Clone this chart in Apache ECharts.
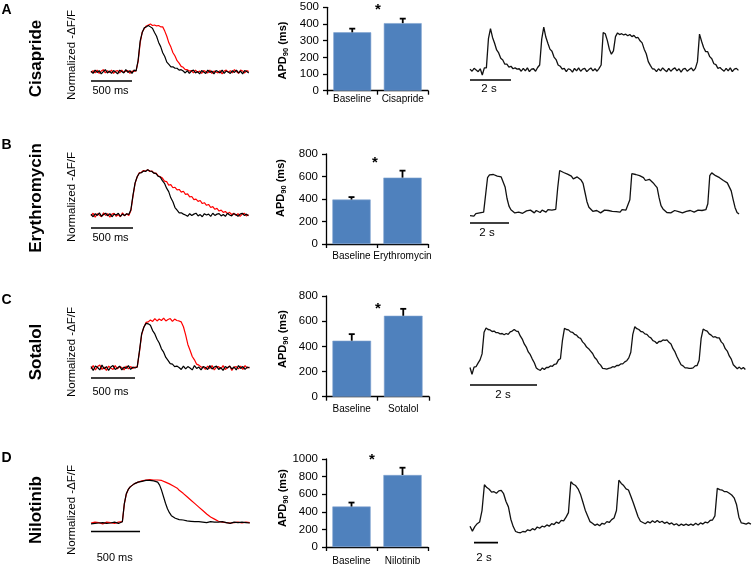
<!DOCTYPE html>
<html><head><meta charset="utf-8">
<script src="https://cdn.jsdelivr.net/npm/echarts@6/dist/echarts.min.js"></script>
<style>html,body{margin:0;padding:0;background:#fff}#c{width:752px;height:566px}</style>
</head><body><div id="c"></div><script>
// ---------------- DATA ----------------
const panelLetters = ['A', 'B', 'C', 'D'];
const drugs = ['Cisapride', 'Erythromycin', 'Sotalol', 'Nilotinib'];
const yTitle = 'Normalized -ΔF/F';
const barCategories = [['Baseline', 'Cisapride'], ['Baseline', 'Erythromycin'], ['Baseline', 'Sotalol'], ['Baseline', 'Nilotinib']];
const apdMeans = [[350, 405], [395, 590], [445, 643], [460, 818]];
const apdErrs = [[22, 27], [22, 62], [52, 55], [45, 83]];
const apdAxisMax = [500, 800, 800, 1000];
const apdAxisInterval = [100, 200, 200, 200];
const leftScaleMs = 500, leftScaleLabel = '500 ms';
const rightScaleMs = 2000, rightScaleLabel = '2 s';

// averaged optical APs (normalized), sample step in ms
const leftStepMs = [25, 25, 25, 20];
const apA_base = [0.02,-0.03,0.04,-0.01,0.03,-0.04,0.01,0.05,-0.02,0.02,-0.03,0.03,0.00,-0.04,0.04,0.01,-0.02,0.05,-0.01,0.03,-0.03,0.04,0.02,
 0.25,0.66,0.84,0.94,0.96,0.99,0.96,0.93,0.84,0.76,0.63,0.54,0.41,0.33,0.21,0.16,0.11,0.11,0.08,0.08,0.04,0.05,0.02,
 -0.02,0.03,-0.03,0.02,0.04,-0.02,0.01,-0.04,0.03,0.00,-0.03,0.04,-0.01,0.02,-0.04,0.03,0.01,-0.02,0.04,-0.03,0.02,0.00,-0.03,0.03,-0.01,0.04,-0.02,0.02,-0.04,0.03,0.01,-0.02];
const apA_drug = [-0.01,0.03,-0.02,0.04,-0.03,0.02,0.05,-0.02,0.03,-0.01,0.04,-0.03,0.02,0.03,-0.02,0.04,-0.01,0.02,0.03,-0.03,0.02,0.01,0.03,
 0.22,0.62,0.85,0.92,0.98,1.0,1.02,0.99,1.0,0.98,0.99,0.96,0.96,0.87,0.76,0.62,0.53,0.41,0.34,0.24,0.19,0.12,0.10,0.05,0.05,0.02,
 0.03,-0.02,0.04,-0.01,0.02,-0.03,0.03,0.01,-0.02,0.04,-0.03,0.02,0.00,-0.02,0.03,-0.04,0.02,0.04,-0.01,0.03,-0.02,0.05,0.01,-0.03,0.04,0.02,-0.02,0.03,0.01];
const apB_base = [0.02,-0.04,0.03,-0.01,0.05,-0.03,0.01,0.04,-0.02,0.03,-0.04,0.02,0.00,0.04,-0.03,0.02,-0.01,0.03,0.01,
 0.12,0.45,0.73,0.87,0.95,0.96,1.0,0.99,1.03,1.0,0.99,0.95,0.94,0.88,0.86,0.78,0.72,0.61,0.53,0.39,0.30,0.17,0.11,0.05,0.05,0.02,
 0.00,-0.03,0.03,-0.01,0.02,0.04,-0.02,0.01,-0.04,0.03,0.00,0.02,-0.03,0.04,-0.01,0.02,0.03,-0.02,0.01,-0.03,0.04,0.00,-0.02,0.03,0.01,-0.03,0.02,0.04,-0.01,0.02,-0.02];
const apB_drug = [-0.02,0.04,-0.05,0.03,0.00,-0.04,0.05,-0.01,0.03,-0.05,0.02,0.04,-0.03,0.01,-0.04,0.05,-0.02,0.03,-0.01,
 0.10,0.43,0.72,0.87,0.96,0.97,1.01,1.0,1.03,0.99,1.0,0.95,0.95,0.89,0.87,
 0.84,0.77,0.76,0.68,0.69,0.62,0.63,0.57,0.58,0.52,0.54,0.47,0.48,0.41,0.42,0.35,0.36,0.31,0.33,0.26,0.28,0.22,0.24,0.17,0.19,0.13,0.15,0.09,0.11,0.06,0.08,0.03,0.06,0.01,0.04,-0.01,
 0.03,-0.03,0.02,0.04,-0.02,0.01];
const apC_base = [0.03,-0.05,0.04,0.01,-0.04,0.06,-0.02,0.03,-0.05,0.02,0.05,-0.03,0.00,0.04,-0.04,0.02,-0.01,0.05,-0.03,0.02,0.00,
 0.02,0.35,0.71,0.85,0.93,0.92,0.89,0.78,0.71,0.60,0.52,0.40,0.33,0.22,0.16,0.09,0.08,0.03,0.04,0.01,
 -0.03,0.04,-0.02,0.03,0.00,-0.04,0.05,-0.01,0.02,-0.04,0.03,0.01,-0.03,0.05,-0.02,0.02,0.04,-0.03,0.01,-0.05,0.03,0.00,0.04,-0.02,0.02,-0.04,0.05,-0.01,0.03,-0.03,0.02,0.00];
const apC_drug = [-0.02,0.05,-0.04,0.03,0.06,-0.03,0.02,-0.05,0.04,0.00,-0.03,0.05,-0.02,0.03,0.01,-0.04,0.04,-0.02,0.03,-0.01,0.02,
 0.02,0.33,0.69,0.85,0.95,0.96,1.0,0.97,1.03,0.98,1.02,0.99,1.04,0.98,1.01,1.03,0.97,1.02,0.99,0.98,0.96,0.86,0.69,0.49,0.37,0.24,0.17,0.08,0.06,0.02,0.02,
 -0.03,0.04,-0.01,0.05,-0.04,0.02,0.03,-0.02,0.05,-0.03,0.01,0.04,-0.05,0.02,0.03,-0.02,0.04,-0.03,0.05,0.00,0.02];
const apD_base = [-0.02,0.01,-0.01,0.02,0.00,-0.02,0.01,0.02,-0.01,0.01,0.00,-0.02,0.02,0.01,-0.01,0.01,
 0.03,0.45,0.68,0.78,0.84,0.88,0.91,0.93,0.95,0.96,0.97,0.98,0.99,0.99,0.99,0.99,0.98,0.97,0.95,0.88,0.76,0.61,0.46,0.33,0.24,0.17,0.13,0.11,0.09,0.08,0.07,0.07,0.06,0.05,0.05,0.04,0.04,0.03,0.04,0.03,0.03,
 0.02,0.03,0.01,0.02,0.03,0.01,0.02,0.00,0.02,0.01,0.03,0.00,0.01,0.02,-0.01,0.01,0.02,0.00,0.01,-0.01,0.02,0.00,0.01,0.02,0.00];
const apD_drug = [0.00,-0.02,0.02,-0.01,0.01,0.02,-0.02,0.00,0.02,-0.01,0.01,0.02,-0.01,0.00,0.02,-0.01,
 0.03,0.44,0.67,0.78,0.84,0.88,0.91,0.93,0.95,0.97,0.98,0.99,1.0,1.0,1.01,1.01,1.0,1.01,1.0,1.0,
 0.99,0.96,0.95,0.91,0.91,0.87,0.86,0.82,0.81,0.76,0.74,0.69,0.67,0.61,0.59,0.53,0.51,0.45,0.44,0.37,0.35,0.29,0.27,0.21,0.20,0.14,0.13,0.09,0.08,0.04,0.05,0.02,0.03,
 0.01,0.03,0.00,0.02,0.01,-0.01,0.02,0.03,0.00,0.01,0.02,-0.01,0.01];

// example raw recordings with drug (normalized), sample step in ms
const rightStepMs = [100, 100, 60, 200];
const recA = [0.02,-0.03,0.04,0.00,-0.04,0.03,-0.12,0.05,
 0.05,0.75,0.99,0.78,0.64,0.48,0.41,0.28,0.24,0.14,0.14,0.07,0.09,0.03,0.05,0.02,0.03,
 -0.03,0.04,-0.02,0.05,-0.04,0.02,0.03,-0.03,0.06,
 0.12,0.74,1.03,0.79,0.64,0.50,0.45,0.31,0.25,0.12,0.09,0.02,0.04,
 -0.04,0.03,0.01,-0.05,0.04,-0.02,0.05,-0.03,0.02,0.04,-0.04,0.01,0.05,-0.02,0.03,-0.03,0.04,
 0.12,0.90,0.87,0.71,0.50,0.38,0.46,0.80,0.89,0.85,0.87,0.84,0.86,0.82,0.85,0.80,0.83,0.77,0.78,0.70,0.65,0.50,0.39,0.20,0.11,0.03,0.02,
 -0.04,0.03,-0.02,0.05,0.00,-0.04,0.04,-0.03,0.02,0.05,-0.02,0.03,-0.05,0.02,0.04,-0.03,0.01,0.05,-0.02,0.04,
 0.20,0.86,0.69,0.54,0.44,0.44,0.32,0.27,0.15,0.13,0.04,0.06,0.01,
 -0.03,0.04,-0.02,0.05,-0.04,0.02,0.04,-0.01];
const recB = [-0.10,-0.06,-0.11,-0.05,-0.08,-0.03,-0.06,-0.01,-0.04,
 0.85,0.92,0.90,0.93,0.90,0.89,0.91,0.87,0.84,0.62,0.33,0.14,0.05,0.01,
 -0.03,0.02,-0.01,0.03,-0.04,0.01,0.02,-0.02,0.04,0.00,-0.03,0.03,0.01,-0.02,0.04,0.02,-0.01,0.05,0.02,0.04,0.03,0.06,
 0.60,1.03,0.99,0.98,0.94,0.94,0.91,0.89,0.82,0.81,0.87,0.84,0.79,0.71,0.48,0.25,0.11,0.06,0.01,
 -0.02,0.03,0.00,-0.03,0.02,0.04,-0.01,0.03,-0.02,0.01,0.04,0.00,0.03,-0.01,0.05,0.02,0.04,0.06,
 0.30,0.95,0.96,0.93,0.91,0.90,0.88,0.85,0.78,0.76,0.81,0.78,0.72,0.66,0.60,0.35,0.15,0.07,0.03,
 -0.02,0.02,-0.03,0.01,0.03,-0.02,0.00,0.03,-0.03,0.02,0.01,-0.02,0.03,0.00,-0.01,0.02,0.04,0.01,0.03,0.02,0.05,
 0.20,0.90,0.97,0.93,0.90,0.87,0.85,0.81,0.78,0.75,0.72,0.68,0.52,0.30,0.10,-0.02,-0.06];
const recC = [0.02,-0.15,0.03,0.04,0.13,0.21,0.36,0.90,1.01,0.97,
 0.96,0.92,0.93,0.89,0.89,0.86,0.87,0.84,0.87,0.85,
 0.91,0.93,0.97,0.93,0.92,0.81,0.73,0.61,0.53,0.41,
 0.34,0.23,0.14,0.01,-0.03,-0.05,0.01,-0.03,0.02,0.02,
 0.06,0.05,0.10,0.11,0.21,0.24,0.70,1.00,0.97,0.96,
 0.91,0.90,0.85,0.83,0.77,0.75,0.66,0.61,0.53,0.49,
 0.43,0.37,0.27,0.22,0.13,0.08,0.00,-0.01,-0.02,0.00,
 0.01,0.04,0.03,0.07,0.07,0.11,0.11,0.16,0.19,0.26,
 0.40,0.85,1.04,0.99,0.97,0.92,0.91,0.86,0.85,0.79,
 0.76,0.69,0.67,0.62,0.67,0.67,0.71,0.70,0.71,0.65,
 0.61,0.49,0.41,0.29,0.19,0.09,0.06,0.01,0.01,0.00,
 0.00,0.01,0.06,0.07,0.20,0.75,0.98,0.95,0.93,0.86,
 0.83,0.78,0.79,0.76,0.76,0.66,0.61,0.49,0.43,0.31,
 0.23,0.09,0.04,-0.01,0.03,-0.02,0.02,-0.03];
const recD = [-0.03,-0.15,-0.04,0.03,0.07,0.35,0.98,0.91,0.87,0.80,
 0.81,0.77,0.83,0.84,0.76,0.57,0.44,0.14,-0.04,-0.16,
 -0.18,-0.19,-0.16,-0.17,-0.12,-0.14,-0.09,-0.12,-0.05,-0.08,
 -0.03,-0.05,0.00,-0.03,0.03,0.01,0.07,0.04,0.11,0.10,
 0.19,0.30,1.05,0.99,0.96,0.88,0.75,0.56,0.36,0.22,
 0.08,0.04,-0.01,0.02,-0.02,0.04,0.02,0.08,0.06,0.13,
 0.17,0.35,1.09,1.01,0.96,0.88,0.85,0.70,0.54,0.37,
 0.20,0.09,0.06,0.03,0.08,0.05,0.10,0.06,0.11,0.06,
 0.09,0.04,0.07,0.02,0.05,0.00,0.03,-0.02,0.02,-0.01,
 0.02,-0.01,0.02,-0.01,0.04,0.00,0.05,0.02,0.07,0.05,
 0.11,0.12,0.22,0.89,0.86,0.85,0.81,0.81,0.77,0.73,
 0.66,0.50,0.19,0.05,0.04,0.02,0.05,0.02];

const apBaseline = [apA_base, apB_base, apC_base, apD_base];
const apDrug = [apA_drug, apB_drug, apC_drug, apD_drug];
const recordings = [recA, recB, recC, recD];

// ---------------- LAYOUT ----------------
const FONT = '"Liberation Sans", Arial, Helvetica, sans-serif';
const L = [
 {letter:[1.5,10.5], drug:[36,58.5], norm:[72,55],
  lt:{left:91,width:159,base:72,peak:25,xMax:1940,bar:81,txt:[92.5,90.5]},
  bc:{left:327,top:7.3,width:101,height:83.4,lblMargin:4,star:[378,10],name:[282.5,50.5]},
  rt:{left:470,width:270,base:70,peak:28.3,xMax:13176,bar:80,barStart:0,txt:[489,89]}},
 {letter:[1.5,145], drug:[36,198], norm:[72,197],
  lt:{left:91,width:159,base:215,peak:171,xMax:1893,bar:228,txt:[92.5,237.5]},
  bc:{left:326,top:154,width:102,height:90,lblMargin:7,star:[375,163],name:[281,188]},
  rt:{left:470,width:270,base:211.7,peak:171.7,xMax:13851,bar:223,barStart:0,txt:[487,232.5]}},
 {letter:[1.5,300], drug:[36,352], norm:[72,352],
  lt:{left:91,width:159,base:368,peak:320,xMax:1806,bar:378,txt:[92.5,391.5]},
  bc:{left:326,top:296,width:103,height:100.7,lblMargin:8,star:[378,309],name:[283,339]},
  rt:{left:470,width:276,base:368.3,peak:328.3,xMax:8239,bar:385,barStart:0,txt:[503,395]}},
 {letter:[1.5,458], drug:[36,510], norm:[72,510],
  lt:{left:91,width:159,base:535,peak:484,xMax:1622,bar:545,txt:[96.7,557.5]},
  bc:{left:326,top:459,width:102,height:88,lblMargin:9,star:[372,460],name:[282.5,498]},
  rt:{left:470,width:282,base:528.3,peak:485,xMax:23490,bar:547,barStart:333,txt:[484,557.5]}}
];
const VMIN = -1, VMAX = 1.5;

const grid = [], xAxis = [], yAxis = [], series = [], elements = [];
function hiddenAxes(xMax) {
  const gi = grid.length - 1;
  xAxis.push({type:'value', gridIndex:gi, min:0, max:xMax, show:false});
  yAxis.push({type:'value', gridIndex:gi, min:VMIN, max:VMAX, show:false});
  return gi;
}
function traceGrid(p) {
  const ppu = p.base - p.peak;
  grid.push({left:p.left, width:p.width, top:p.peak - (VMAX - 1) * ppu, height:(VMAX - VMIN) * ppu});
  return ppu;
}
function lineSeries(gi, data, color, width) {
  series.push({type:'line', xAxisIndex:gi, yAxisIndex:gi, data, symbol:'none', showSymbol:false,
    clip:false, silent:true, animation:false, lineStyle:{color, width}});
}
function txt(x, y, text, size, weight, align, rot) {
  elements.push({type:'text', x, y, rotation:rot || 0, silent:true,
    style:{text, fill:'#000', fontSize:size, fontWeight:weight, fontFamily:FONT, align, verticalAlign:'middle'}});
}

for (let r = 0; r < 4; r++) {
  const lay = L[r];
  // --- left: averaged APs ---
  let ppu = traceGrid(lay.lt);
  let gi = hiddenAxes(lay.lt.xMax);
  const st = leftStepMs[r];
  lineSeries(gi, apDrug[r].map((v, i) => [i * st, v]), '#ff0000', 1.2);
  lineSeries(gi, apBaseline[r].map((v, i) => [i * st, v]), '#000000', 1.2);
  const yb = -(lay.lt.bar - lay.lt.base) / ppu;
  lineSeries(gi, [[0, yb], [leftScaleMs, yb]], '#000', 1.6);
  txt(lay.lt.txt[0], lay.lt.txt[1], leftScaleLabel, 11, 'normal', 'left');

  // --- middle: APD90 bars ---
  const b = lay.bc;
  grid.push({left:b.left, top:b.top, width:b.width, height:b.height});
  gi = grid.length - 1;
  xAxis.push({type:'category', gridIndex:gi, data:barCategories[r],
    axisLine:{lineStyle:{color:'#000', width:1.3}}, axisTick:{show:true, length:4, lineStyle:{color:'#000', width:1.3}},
    axisLabel:{color:'#000', fontSize:10, fontFamily:FONT, margin:b.lblMargin, interval:0}});
  yAxis.push({type:'value', gridIndex:gi, min:0, max:apdAxisMax[r], interval:apdAxisInterval[r],
    axisLine:{show:true, lineStyle:{color:'#000', width:1.3}}, axisTick:{show:true, length:4, lineStyle:{color:'#000', width:1.3}},
    splitLine:{show:false}, axisLabel:{color:'#000', fontSize:11.5, fontFamily:FONT, margin:8, formatter:(v) => String(v)}});
  series.push({type:'bar', xAxisIndex:gi, yAxisIndex:gi, data:apdMeans[r], barWidth:'75%', silent:true, animation:false,
    itemStyle:{color:'#4f81bd', borderColor:'#7fa2d0', borderWidth:0.6}});
  series.push({type:'custom', xAxisIndex:gi, yAxisIndex:gi, silent:true, animation:false, z:5,
    data: apdMeans[r].map((m, i) => [i, m, apdErrs[r][i]]), encode:{x:0, y:1},
    renderItem: (params, api) => {
      const p0 = api.coord([api.value(0), api.value(1)]);
      const p1 = api.coord([api.value(0), api.value(1) + api.value(2)]);
      return {type:'group', children:[
        {type:'line', shape:{x1:p0[0], y1:p0[1], x2:p1[0], y2:p1[1]}, style:{stroke:'#000', lineWidth:1.8}},
        {type:'line', shape:{x1:p1[0] - 3, y1:p1[1], x2:p1[0] + 3, y2:p1[1]}, style:{stroke:'#000', lineWidth:1.8}}]};
    }});
  txt(b.star[0], b.star[1], '*', 15, 'bold', 'center');
  elements.push({type:'text', x:b.name[0], y:b.name[1], rotation:Math.PI / 2, silent:true,
    style:{text:'{a|APD}{s|90}{a| (ms)}', align:'center', verticalAlign:'middle',
      rich:{a:{fontSize:11, fontWeight:'bold', fontFamily:FONT, fill:'#000', lineHeight:14, verticalAlign:'middle'},
            s:{fontSize:7.5, fontWeight:'bold', fontFamily:FONT, fill:'#000', lineHeight:8, verticalAlign:'bottom'}}}});

  // --- right: recordings ---
  ppu = traceGrid(lay.rt);
  gi = hiddenAxes(lay.rt.xMax);
  const rs = rightStepMs[r];
  lineSeries(gi, recordings[r].map((v, i) => [i * rs, v]), '#111111', 1.3);
  const yr = -(lay.rt.bar - lay.rt.base) / ppu;
  lineSeries(gi, [[lay.rt.barStart, yr], [lay.rt.barStart + rightScaleMs, yr]], '#000', 1.6);
  txt(lay.rt.txt[0], lay.rt.txt[1], rightScaleLabel, 11.5, 'normal', 'center');

  // --- labels ---
  txt(lay.letter[0], lay.letter[1], panelLetters[r], 14, 'bold', 'left');
  txt(lay.drug[0], lay.drug[1], drugs[r], 17, 'bold', 'center', Math.PI / 2);
  txt(lay.norm[0], lay.norm[1], yTitle, 11.5, 'normal', 'center', Math.PI / 2);
}

const chart = echarts.init(document.getElementById('c'), null, {renderer:'canvas'});
chart.setOption({
  animation:false, backgroundColor:'#fff', textStyle:{fontFamily:FONT},
  grid, xAxis, yAxis, series, graphic:{elements}
});
</script></body></html>
